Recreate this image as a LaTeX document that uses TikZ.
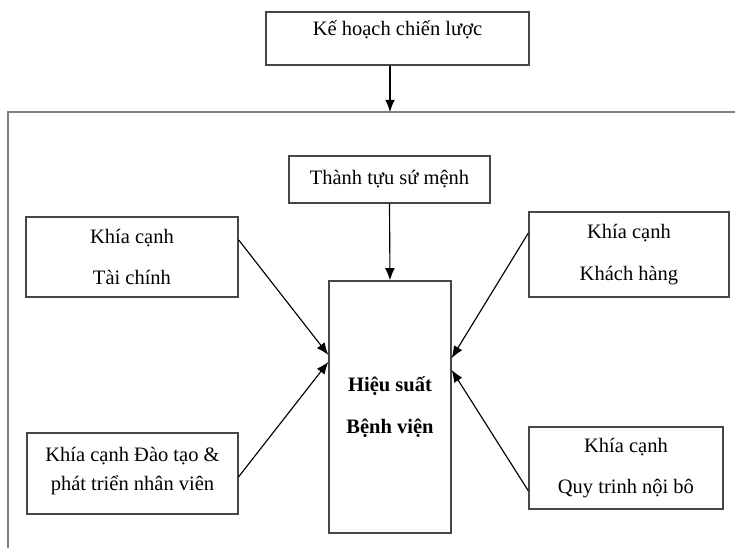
\documentclass[tikz,border=0pt]{standalone}
\usepackage{fontspec}
\setmainfont{Liberation Serif}
\definecolor{gray}{rgb}{0.5,0.5,0.5}
\definecolor{boxGrey}{RGB}{70, 70, 70}
\usetikzlibrary{
    arrows.meta,
    positioning
}

\begin{document}
\begin{tikzpicture}[
        >={Latex[length=7.5pt, width=6pt]},
        font=\fontsize{12.6}{15}\selectfont,
        boxnode/.style={rectangle, draw=boxGrey, line width=0.8pt, align=center, inner sep=0pt},
        perfnode/.style={boxnode, font=\fontsize{12.6}{15}\selectfont\bfseries},
    ]
    \useasboundingbox (0, 0) rectangle (15.876, 11.837);

    \begin{scope}
        % outer frame
        \draw[draw=gray, line width=1pt] (0.173, 0) -- (0.173, 9.418) -- (15.876, 9.418);
        \coordinate (fr_top) at (8.424, 9.418);

        \node[boxnode, minimum width=5.68cm, minimum height=1.145cm, text height=8pt, text depth=12pt] (s0_plan) at (8.586, 11.005) {Kế hoạch chiến lược};
        \node[boxnode, minimum width=4.34cm, minimum height=1.015cm] (s1_mission) at (8.413, 7.96) {Thành tựu sứ mệnh};
        \node[perfnode, minimum width=2.635cm, minimum height=5.443cm] (s2_perf) at (8.424, 3.046) {Hiệu suất\\[10.5pt]Bệnh viện};

        \node[boxnode, minimum width=4.58cm, minimum height=1.728cm] (s3_fin) at (2.851, 6.286) {Khía cạnh\\[10.5pt]Tài chính};
        \node[boxnode, minimum width=4.32cm, minimum height=1.836cm] (s3_cust) at (13.586, 6.34) {Khía cạnh\\[10.5pt]Khách hàng};
        \node[boxnode, minimum width=4.558cm, minimum height=1.75cm, text depth=6pt] (s3_learn) at (2.862, 1.609) {Khía cạnh Đào tạo \&\\[2.5pt]phát triển nhân viên};
        \node[boxnode, minimum width=4.19cm, minimum height=1.771cm] (s3_proc) at (13.52, 1.728) {Khía cạnh\\[10.5pt]Quy trinh nội bô};
    \end{scope}

    \begin{scope} [every edge/.style={draw=black, line width=0.7pt}]
        \path [->] (s2_perf.north |- s0_plan.south) edge (fr_top);
        \path [->] (s1_mission.south) edge (s2_perf.north);
        \path [->] ([yshift=10.5pt]s3_fin.east) edge ([yshift=32pt]s2_perf.west);
        \path [->] ([yshift=-2pt]s3_learn.east) edge ([yshift=27.7pt]s2_perf.west);
        \path [->] ([yshift=13.2pt]s3_cust.west) edge ([yshift=30pt]s2_perf.east);
        \path [->] ([yshift=-14pt]s3_proc.west) edge ([yshift=22.8pt]s2_perf.east);
    \end{scope}
\end{tikzpicture}
\end{document}
